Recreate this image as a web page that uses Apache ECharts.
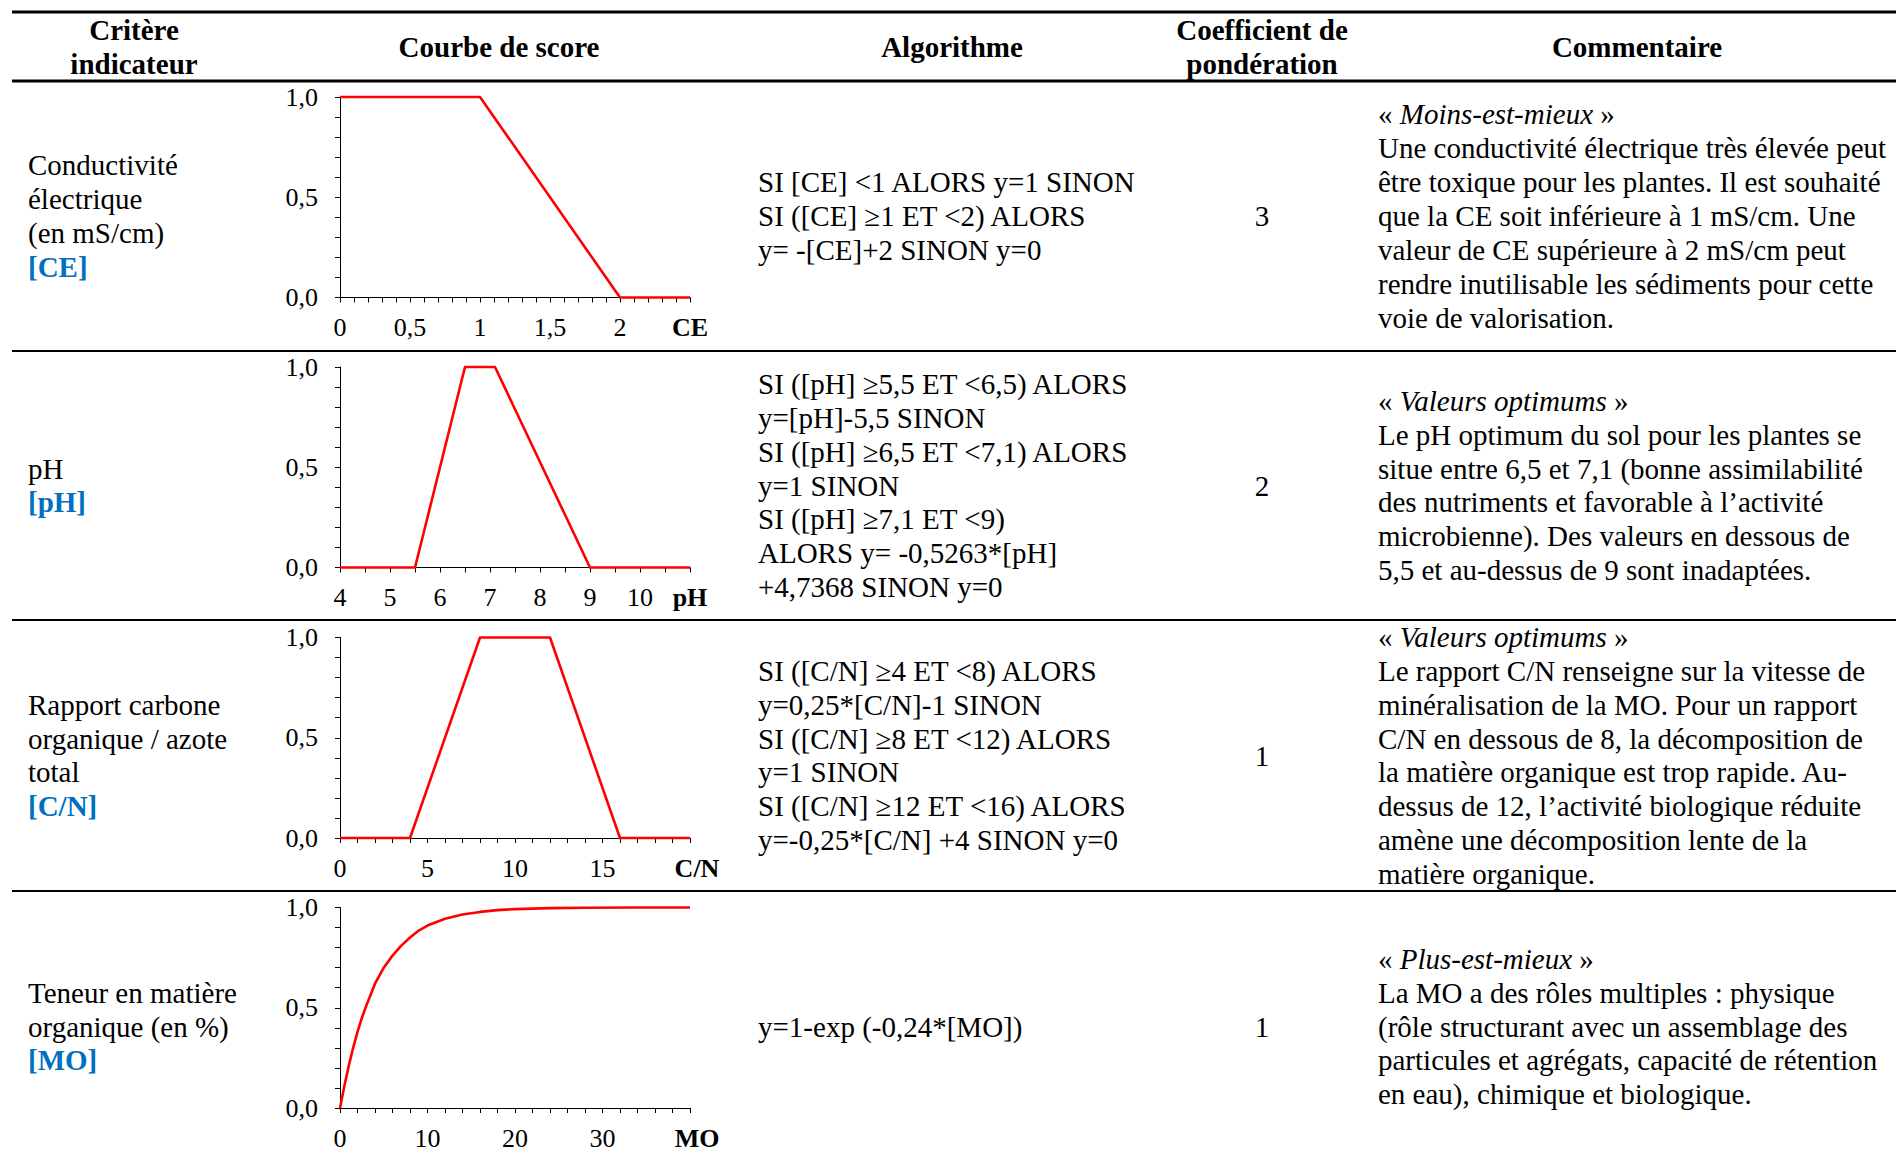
<!DOCTYPE html>
<html>
<head>
<meta charset="utf-8">
<script src="https://cdn.jsdelivr.net/npm/echarts@6/dist/echarts.min.js"></script>
<style>
html,body{margin:0;padding:0;background:#fff;}
#main{width:1896px;height:1155px;}
</style>
</head>
<body>
<div id="main"></div>
<script>
// ---------- Score curves ----------
const ceX = [0, 1, 2, 2.5];
const ceY = [1, 1, 0, 0];
const phX = [4, 5.5, 6.5, 7.1, 9, 11];
const phY = [0, 0, 1, 1, 0, 0];
const cnX = [0, 4, 8, 12, 16, 20];
const cnY = [0, 0, 1, 1, 0, 0];
const moX = [0, 0.5, 1, 1.5, 2, 2.5, 3, 4, 5, 6, 7, 8, 9, 10, 12, 14, 16, 18, 20, 24, 28, 34, 40];
const moY = [0, 0.11, 0.21, 0.30, 0.38, 0.45, 0.51, 0.62, 0.70, 0.76, 0.81, 0.85, 0.885, 0.91, 0.944, 0.965, 0.978, 0.987, 0.992, 0.997, 0.999, 1.0, 1.0];

// ---------- Axes ----------
const axisNames = ['CE', 'pH', 'C/N', 'MO'];
const axisMin = [0, 4, 0, 0];
const axisMax = [2.5, 11, 20, 40];
const tickStep = [0.1, 0.5, 1, 2];
const labelStep = [0.5, 1, 5, 10];
const yTicks = ['0,0', '0,5', '1,0'];

// ---------- Table text ----------
const headers = [['Critère', 'indicateur'], ['Courbe de score'], ['Algorithme'], ['Coefficient de', 'pondération'], ['Commentaire']];
const criteriaLines = [
  ['Conductivité', 'électrique', '(en mS/cm)'],
  ['pH'],
  ['Rapport carbone', 'organique / azote', 'total'],
  ['Teneur en matière', 'organique (en %)']
];
const criteriaCodes = ['[CE]', '[pH]', '[C/N]', '[MO]'];
const algorithmLines = [
  ['SI [CE] <1 ALORS y=1 SINON', 'SI ([CE] \u22651 ET <2) ALORS', 'y= -[CE]+2 SINON y=0'],
  ['SI ([pH] \u22655,5 ET <6,5) ALORS', 'y=[pH]-5,5 SINON', 'SI ([pH] \u22656,5 ET <7,1) ALORS', 'y=1 SINON', 'SI ([pH] \u22657,1 ET <9)', 'ALORS y= -0,5263*[pH]', '+4,7368 SINON y=0'],
  ['SI ([C/N] \u22654 ET <8) ALORS', 'y=0,25*[C/N]-1 SINON', 'SI ([C/N] \u22658 ET <12) ALORS', 'y=1 SINON', 'SI ([C/N] \u226512 ET <16) ALORS', 'y=-0,25*[C/N] +4 SINON y=0'],
  ['y=1-exp (-0,24*[MO])']
];
const coefficients = ['3', '2', '1', '1'];
const commentTitles = ['Moins-est-mieux', 'Valeurs optimums', 'Valeurs optimums', 'Plus-est-mieux'];
const commentLines = [
  ['Une conductivité électrique très élevée peut', 'être toxique pour les plantes. Il est souhaité', 'que la CE soit inférieure à 1 mS/cm. Une', 'valeur de CE supérieure à 2 mS/cm peut', 'rendre inutilisable les sédiments pour cette', 'voie de valorisation.'],
  ['Le pH optimum du sol pour les plantes se', 'situe entre 6,5 et 7,1 (bonne assimilabilité', 'des nutriments et favorable à l\u2019activité', 'microbienne). Des valeurs en dessous de', '5,5 et au-dessus de 9 sont inadaptées.'],
  ['Le rapport C/N renseigne sur la vitesse de', 'minéralisation de la MO. Pour un rapport', 'C/N en dessous de 8, la décomposition de', 'la matière organique est trop rapide. Au-', 'dessus de 12, l\u2019activité biologique réduite', 'amène une décomposition lente de la', 'matière organique.'],
  ['La MO a des rôles multiples : physique', '(rôle structurant avec un assemblage des', 'particules et agrégats, capacité de rétention', 'en eau), chimique et biologique.']
];

// ---------- Layout ----------
const FONT = 'Liberation Serif';
const rowCenters = [216, 485.5, 755.5, 1026.5];
const gridTops = [97, 367, 637.5, 907.5];
const LH = 33.9;
const namePad = [0, 0, 14, 14];

const chart = echarts.init(document.getElementById('main'), null, {renderer: 'svg'});

function near(a, b) { return Math.abs(a - b) < 1e-6; }
function fmtNum(v) { return String(+v.toFixed(2)).replace('.', ','); }

const curves = [[ceX, ceY], [phX, phY], [cnX, cnY], [moX, moY]];

const grids = [], xAxes = [], yAxes = [], series = [];
for (let i = 0; i < 4; i++) {
  grids.push({left: 340, top: gridTops[i], width: 350, height: 200.5, outerBoundsMode: 'none', containLabel: false});
  xAxes.push({
    type: 'value', gridIndex: i, min: axisMin[i], max: axisMax[i], interval: tickStep[i],
    axisLine: {show: true, onZero: false, lineStyle: {color: '#000', width: 1}},
    axisTick: {show: true, length: 5, lineStyle: {color: '#000', width: 1}},
    splitLine: {show: false},
    axisLabel: {
      margin: 17, color: '#000', fontFamily: FONT, fontSize: 26,
      showMinLabel: true, showMaxLabel: true,
      formatter: (function (k) {
        return function (v) {
          if (near(v, axisMax[k])) return '{b|' + axisNames[k] + '}';
          const r = (v - axisMin[k]) / labelStep[k];
          if (near(r, Math.round(r))) return fmtNum(v);
          return '';
        };
      })(i),
      rich: {b: {fontFamily: FONT, fontSize: 26, fontWeight: 'bold', color: '#000', padding: [0, 0, 0, namePad[i]]}}
    }
  });
  yAxes.push({
    type: 'value', gridIndex: i, min: 0, max: 1, interval: 0.1,
    axisLine: {show: true, lineStyle: {color: '#000', width: 1}},
    axisTick: {show: true, length: 5, lineStyle: {color: '#000', width: 1}},
    splitLine: {show: false},
    axisLabel: {
      margin: 22, color: '#000', fontFamily: FONT, fontSize: 26,
      formatter: function (v) {
        const r = v * 2;
        if (near(r, Math.round(r))) return yTicks[Math.round(r)];
        return '';
      }
    }
  });
  const xs = curves[i][0], ys = curves[i][1];
  series.push({
    type: 'line', xAxisIndex: i, yAxisIndex: i,
    data: xs.map((x, j) => [x, ys[j]]),
    showSymbol: false, symbol: 'none',
    smooth: false,
    lineStyle: {color: '#FF0000', width: 2.6, join: 'round'},
    clip: false, silent: true
  });
}

// ---------- Graphic elements: rules + text ----------
const graphic = [];
function rule(y, w) {
  graphic.push({type: 'line', shape: {x1: 12, y1: y, x2: 1896, y2: y}, style: {stroke: '#000', lineWidth: w}, silent: true});
}
rule(12, 3); rule(81, 3); rule(351, 2); rule(620, 2); rule(891, 2);

function txt(x, y, text, opts) {
  const st = Object.assign({text: text, x: 0, y: 0, fill: '#000', fontFamily: FONT, fontSize: 29, align: 'left', verticalAlign: 'middle'}, opts || {});
  graphic.push({type: 'text', x: x, y: y, style: st, silent: true});
}
function block(x, cy, lines, optsFn) {
  const n = lines.length;
  lines.forEach((l, j) => {
    const y = cy + (j - (n - 1) / 2) * LH;
    const o = optsFn ? optsFn(j, l) : {};
    txt(x, y, o.text !== undefined ? o.text : l, o);
  });
}

// header
const headerX = [134, 499, 952, 1262, 1637];
headers.forEach((h, k) => {
  block(headerX[k], 47, h, () => ({fontWeight: 'bold', align: 'center'}));
});

for (let r = 0; r < 4; r++) {
  const cy = rowCenters[r];
  const cl = criteriaLines[r].concat([criteriaCodes[r]]);
  block(28, cy, cl, (j) => j === cl.length - 1 ? {fontWeight: 'bold', fill: '#0070C0'} : {});
  block(758, cy, algorithmLines[r]);
  txt(1262, cy, coefficients[r], {align: 'center'});
  const cm = [commentTitles[r]].concat(commentLines[r]);
  block(1378, cy, cm, (j, l) => j === 0 ? {
    text: '\u00AB {i|' + l + '} \u00BB',
    rich: {i: {fontStyle: 'italic', fontFamily: FONT, fontSize: 29, fill: '#000', color: '#000'}}
  } : {});
}

chart.setOption({
  animation: false,
  backgroundColor: '#ffffff',
  grid: grids,
  xAxis: xAxes,
  yAxis: yAxes,
  series: series,
  graphic: graphic
});
</script>
</body>
</html>
